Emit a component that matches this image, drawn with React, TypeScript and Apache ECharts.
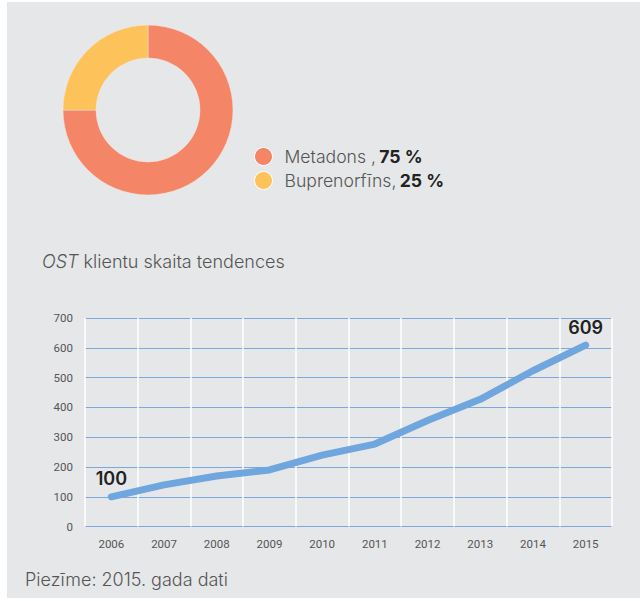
import React, { useEffect, useRef } from "react";
import * as echarts from "echarts";

const shareNames = ["Metadons", "Buprenorfīns"];
const shareLabels = ["Metadons ,", "Buprenorfīns,"];
const shareValues = [75, 25];
const shareColors = ["#f48567", "#fec25a"];

const years = ["2006", "2007", "2008", "2009", "2010", "2011", "2012", "2013", "2014", "2015"];
const clients = [100, 140, 170, 190, 240, 277, 356, 427, 523, 609];

const yTicks = { min: 0, max: 700, interval: 100 };

const titleText = "klientu skaita tendences";
const noteText = "Piezīme: 2015. gada dati";

const BG = "#e6e7e9";
const TXT = "#555555";
const FONT = "Inter, Roboto, 'Noto Sans', sans-serif";
const NARROW = "Roboto, sans-serif";

export default function App() {
  const ref = useRef<HTMLDivElement>(null);
  useEffect(() => {
    if (!ref.current) return;
    const chart = echarts.init(ref.current, undefined, { renderer: "svg" });
    const last = clients.length - 1;
    chart.setOption({
      animation: false,
      backgroundColor: "#ffffff",
      graphic: [
        { type: "rect", z: -10, shape: { x: 7, y: 2, width: 633, height: 596 }, style: { fill: BG } },
        {
          type: "text",
          left: 42,
          top: 252,
          style: {
            text: "{i|OST} " + titleText,
            fill: TXT,
            font: `300 18px ${FONT}`,
            rich: { i: { fontStyle: "italic", fontSize: 18, fontWeight: 300, fill: TXT, fontFamily: FONT } },
          },
        },
        {
          type: "text",
          left: 25,
          top: 570,
          style: { text: noteText, fill: TXT, font: `300 18px ${FONT}` },
        },
      ],
      legend: {
        orient: "vertical",
        left: 254,
        top: 147,
        padding: 0,
        itemWidth: 18,
        itemHeight: 18,
        itemGap: 5,
        icon: "circle",
        itemStyle: { borderColor: "#ffffff", borderWidth: 1 },
        data: shareNames,
        formatter: (name: string) => {
          const i = shareNames.indexOf(name);
          return `{n|${shareLabels[i]}} {b|${shareValues[i]} %}`;
        },
        textStyle: {
          padding: [0, 0, 0, 7],
          rich: {
            n: { fontSize: 17.6, fontWeight: 300, color: TXT, fontFamily: FONT },
            b: { fontSize: 17.6, fontWeight: "bold", color: "#222222", fontFamily: FONT },
          },
        },
      },
      grid: { left: 85, top: 318, width: 527, height: 208.6, containLabel: false },
      xAxis: {
        type: "category",
        data: years,
        boundaryGap: true,
        axisLine: { show: false },
        axisTick: { show: false },
        axisLabel: { color: TXT, fontSize: 11.5, fontFamily: NARROW, margin: 11 },
        splitLine: { show: true, lineStyle: { color: "#ffffff", width: 1.5 } },
      },
      yAxis: {
        type: "value",
        min: yTicks.min,
        max: yTicks.max,
        interval: yTicks.interval,
        axisLine: { show: false },
        axisTick: { show: false },
        axisLabel: { color: TXT, fontSize: 11.5, fontFamily: NARROW, margin: 12 },
        splitLine: { show: true, lineStyle: { color: "#7ea7dc", width: 1 } },
      },
      series: [
        {
          type: "pie",
          center: [148, 110],
          radius: [52, 85],
          startAngle: 90,
          clockwise: true,
          label: { show: false },
          labelLine: { show: false },
          silent: true,
          itemStyle: { borderColor: "#f3e6dc", borderWidth: 0.5 },
          data: shareNames.map((n, i) => ({ name: n, value: shareValues[i], itemStyle: { color: shareColors[i] } })),
        },
        {
          type: "line",
          data: clients,
          showSymbol: true,
          symbol: "circle",
          symbolSize: 2,
          itemStyle: { color: "rgba(111,166,221,0)" },
          lineStyle: { color: "#6fa6dd", width: 7, cap: "round", join: "round" },
          label: {
            show: true,
            position: "top",
            distance: 8,
            fontSize: 18,
            fontWeight: 600,
            color: "#222222",
            fontFamily: FONT,
            formatter: (p: any) => (p.dataIndex === 0 || p.dataIndex === last ? String(p.value) : ""),
          },
        },
      ],
    });
    return () => chart.dispose();
  }, []);
  return (
    <div
      ref={ref}
      style={{ position: "absolute", left: 0, top: 0, width: 640, height: 601 }}
    />
  );
}
